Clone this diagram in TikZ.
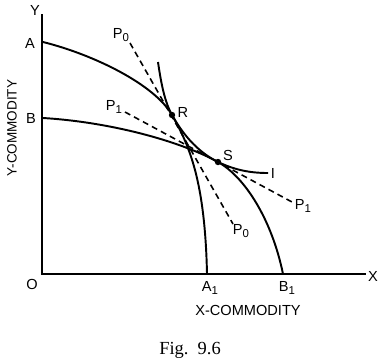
\documentclass[tikz,border=0pt]{standalone}
\usepackage{fontspec}
\setmainfont{Liberation Sans}
\newfontfamily\figfont{Liberation Serif}
\newcommand{\sbs}[1]{\raisebox{-0.45ex}{\fontsize{6.5}{7}\selectfont #1}}

\begin{document}
\begin{tikzpicture}[x=0.02cm, y=-0.02cm, font=\fontsize{8.3}{10}\selectfont,
    curve/.style={line width=1.1pt},
    price/.style={line width=0.9pt, dash pattern=on 3.4pt off 2.4pt}]
    \useasboundingbox (0,0) rectangle (384,363);
    \coordinate (O) at (42,274);
    \coordinate (R) at (172,115);
    \coordinate (S) at (218,162);
    \draw[curve] (42,14) -- (O) -- (366,274);
    \draw[curve] (43,42) .. controls (95,55) and (155,85) .. (R)
        .. controls (189,145) and (205,180) .. (207,274);
    \draw[curve] (43,118) .. controls (110,122) and (180,141) .. (S)
        .. controls (245,177) and (272,220) .. (283,274);
    \draw[curve] (158,62) .. controls (162,90) and (166,104) .. (R)
        .. controls (185,138) and (200,153) .. (S)
        .. controls (235,170) and (250,173) .. (268,173);
    \draw[price] (130,43) -- (233,224);
    \draw[price] (125,112) -- (292,202);
    \fill (R) circle (3.2);
    \fill (S) circle (3.2);
    \node (ylab) at (35,10) {Y};
    \node (xlab) at (373,276) {X};
    \node (olab) at (32,284) {O};
    \node (alab) at (30,43) {A};
    \node (blab) at (31,118) {B};
    \node (a1lab) at (210,288) {A\sbs{1}};
    \node (b1lab) at (287,288) {B\sbs{1}};
    \node (rlab) at (183,112) {R};
    \node (slab) at (228,155) {S};
    \node (ilab) at (273,173) {I};
    \node (p0top) at (121,35) {P\sbs{0}};
    \node (p0bot) at (241,231) {P\sbs{0}};
    \node (p1top) at (114,107) {P\sbs{1}};
    \node (p1bot) at (303,206) {P\sbs{1}};
    \node (xcom) at (248,310) {X-COMMODITY};
    \node[rotate=90, font=\fontsize{7.7}{9}\selectfont] (ycom) at (12,128) {Y-COMMODITY};
    \node[font=\figfont\fontsize{10.5}{12}\selectfont] (fig) at (190,350) {Fig.\ \ 9.6};
\end{tikzpicture}
\end{document}
